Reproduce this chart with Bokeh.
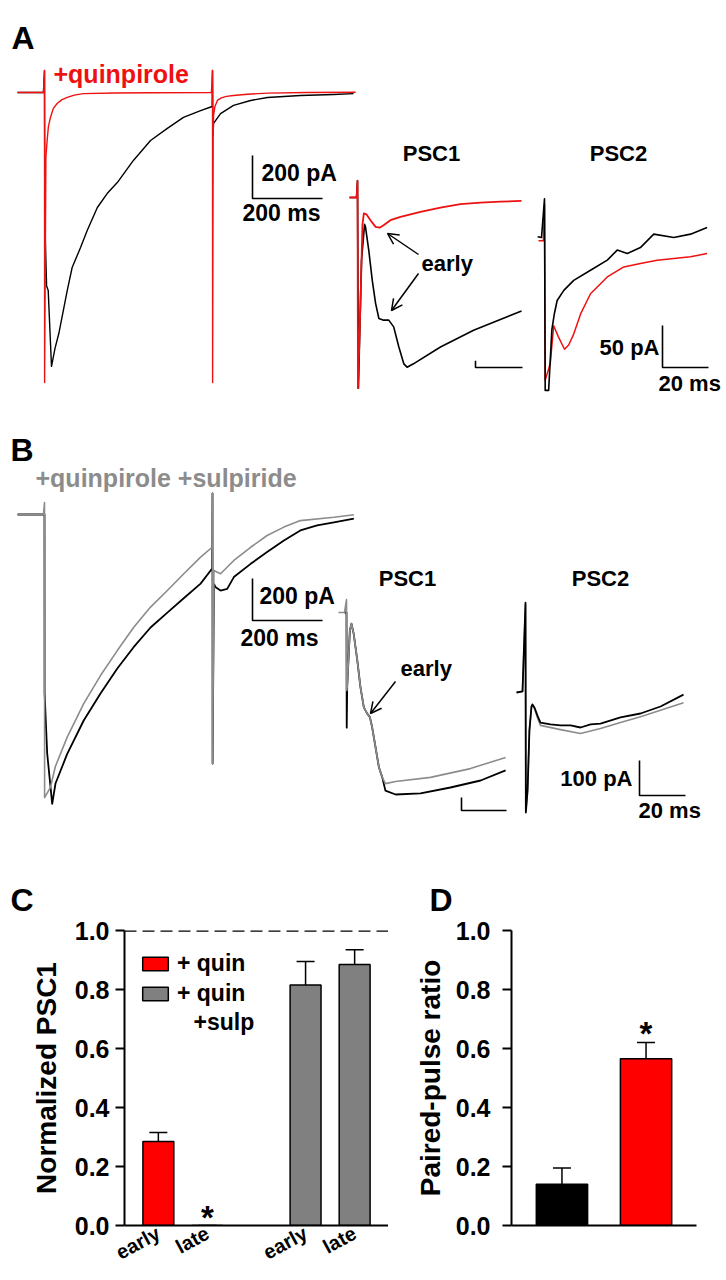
import math
from bokeh.plotting import figure
from bokeh.layouts import column, row
from bokeh.models import (Range1d, ColumnDataSource, Arrow, OpenHead, Span, Whisker, TeeHead,
                          Label, FixedTicker, PrintfTickFormatter, Legend, LegendItem, Title)
from bokeh.embed import file_html
from bokeh.resources import INLINE
from bokeh.core.properties import value

FONT = "Liberation Sans"
RED = "#ee1111"
BAR_RED = "#ff0000"
GRAY = "#8c8c8c"
BAR_GRAY = "#808080"

# ---------------- Panel A traces (time in ms, current in pA) ----------------
a0_ctrl_t = [-77, -3, 0, 1, 6, 10.6, 20, 30, 40.9, 64.9, 79, 103, 122, 151, 179, 208, 254, 303, 351, 397,
             446, 479, 480, 481.5, 483, 503, 540, 589, 637, 731, 826, 883]
a0_ctrl_i = [0, 0, 102, -600, -900, -921, -1274, -1190, -1121, -921, -814, -721, -642, -535, -470, -419, -316,
             -223, -167, -116, -84, -65, 102, -200, -144, -98, -60, -37, -23, -14, -9, -5]
a0_quin_t = [-77, -3, 0, 0.3, 4, 7.6, 11, 17, 25, 36, 50, 65, 85, 111, 200, 300, 477, 480, 480.3, 482,
             483, 487, 494, 505, 520, 540, 580, 637, 750, 889]
a0_quin_i = [0, 0, 102, -1349, -300, -223, -160, -116, -75, -51, -33, -23, -12, -5, -2, -1, 0, 102, -1349, -200,
             -107, -65, -37, -25, -18, -14, -8, -3, 0, 1]

a1_quin_t = [-3.4, -0.4, 0, 0.2, 1.3, 2.1, 2.7, 3.8, 5.5, 7.7, 9.4, 11.1, 14, 18.3, 26.8, 35.3, 43.8, 52.3, 60.9, 69.8]
a1_quin_i = [0, 0, 20, -227, -123, -33, -19, -20, -27, -35, -36, -33, -27, -23, -17, -12, -8, -6, -5, -4]
a1_ctrl_t = [-3.4, -0.4, 0, 0.4, 1.7, 3.0, 3.4, 4.8, 6.3, 7.7, 9.1, 11.1, 13.3, 15.4, 17.6, 19.7, 21.1, 23.8,
             35.3, 49.4, 63.7, 69.8]
a1_ctrl_i = [0, 0, 20, -227, -75, -32, -35, -63, -99, -126, -144, -146, -146, -154, -178, -198, -202, -198,
             -178, -158, -142, -135]

a2_ctrl_t = [-3, -1.3, 0, 0.3, 1.8, 3.2, 4.2, 5.5, 8.4, 12.7, 20, 27.3, 31.6, 36, 41.7, 47.5, 56.2, 63.5, 70.7]
a2_ctrl_i = [1, 0, 46, -182, -182, -110, -92, -75, -63, -51, -39, -27, -15, -19, -12, 4, 0, 4, 12]
a2_quin_t = [-2.6, -0.5, 0, 0.3, 2.5, 4, 6, 8.7, 10.5, 12.7, 15.7, 20, 27.3, 34.5, 41.7, 49, 56.2, 63.5, 70.7]
a2_quin_i = [-4, -4, 40, -170, -150, -105, -118, -133, -128, -115, -91, -67, -47, -35, -31, -27, -25, -23, -19]

# ---------------- Panel B traces ----------------
b0_ctrl_t = [-77, -3, 0, 0.3, 7.7, 22, 31.4, 64.9, 112, 160, 208, 254, 303, 351, 397, 446, 479, 480, 480.3, 484,
             489, 503, 522, 541, 589, 636, 684, 731, 779, 827, 884]
b0_ctrl_i = [0, 0, 0, -850, -1138, -1378, -1281, -1140, -981, -852, -733, -633, -538, -467, -400, -329, -257,
             100, -1186, -330, -346, -362, -354, -298, -235, -179, -124, -76, -52, -37, -20]
b0_sulp_t = [-77, -3, 0, 0.3, 17, 31, 64.9, 112, 160, 208, 255, 303, 351, 398, 446, 479, 480, 480.3, 484, 503,
             541, 589, 636, 684, 731, 827, 884]
b0_sulp_i = [0, 0, 57, -1348, -1299, -1200, -1060, -901, -767, -648, -537, -441, -362, -282, -203, -156, 100,
             -1186, -267, -282, -219, -156, -100, -60, -29, -13, -1]

b1_sulp_t = [-3.6, -0.9, 0, 0.1, 0.3, 1.5, 2.2, 3.2, 4.8, 6.2, 7.7, 9.2, 10.4, 11.4, 12.9, 14.4, 15.9, 17.3,
             21.8, 37.3, 55.1, 70.7]
b1_sulp_i = [0, 0, 37, -223, -213, -51, -32, -61, -137, -213, -271, -289, -299, -328, -385, -442, -471, -489,
             -483, -471, -446, -414]
b1_ctrl_t = [-0.9, 0, 0.1, 0.3, 1.5, 2.2, 3.2, 4.8, 6.2, 7.7, 9.2, 10.4, 11.4, 12.9, 14.4, 15.9, 17.3, 21.8,
             32.9, 46.2, 59.6, 70.7]
b1_ctrl_i = [0, 0, -329, -213, -51, -32, -61, -137, -213, -271, -289, -299, -328, -385, -442, -471, -509, -520,
             -517, -500, -480, -451]

b2_ctrl_t = [-3.9, -1.3, 0, 0.15, 0.9, 1.7, 2.6, 3.0, 3.9, 5.2, 6.5, 10.9, 15.2, 19.6, 23.9, 28.3, 32.6, 41.3,
             50, 58.7, 68.7]
b2_ctrl_i = [0, 3, 257, -343, -280, -109, -40, -34, -43, -66, -86, -91, -94, -94, -100, -91, -89, -71, -60, -40, -6]
b2_sulp_t = [-3.9, -1.3, 0, 0.15, 0.9, 1.7, 2.6, 3.0, 3.9, 5.2, 6.5, 15.2, 23.9, 32.6, 41.3, 50, 58.7, 68.7]
b2_sulp_i = [0, 3, 250, -340, -280, -109, -40, -36, -46, -72, -94, -106, -117, -103, -86, -69, -51, -29]

# scale bars (labelled values)
overview_bar_ms = 200
overview_bar_pA = 200
inset_bar_ms = 20
a_inset_bar_pA = 50
b_inset_bar_pA = 100

# ---------------- Panel C / D bar data ----------------
c_groups = ["quin", "quin", "quin_sulp", "quin_sulp"]
c_categories = ["early", "late", "early", "late"]
c_values = [0.285, 0.0, 0.815, 0.885]
c_errors = [0.03, 0.0, 0.08, 0.05]
c_stars = ["", "*", "", ""]
c_legend = {"quin": "+ quin", "quin_sulp": "+ quin"}
c_legend_extra = "+sulp"
c_colors = {"quin": BAR_RED, "quin_sulp": BAR_GRAY}

d_values = [0.14, 0.565]
d_errors = [0.055, 0.055]
d_stars = ["", "*"]
d_colors = ["#000000", BAR_RED]

W = 722


def trace_figure(y_top, height):
    p = figure(width=W, height=height, x_range=Range1d(0, W),
               y_range=Range1d(y_top + height, y_top),
               output_backend="svg", toolbar_location=None,
               x_axis_location=None, y_axis_location=None,
               min_border=0, outline_line_color=None)
    p.grid.visible = False
    return p


def add_inset(p, y_top, height, name, xs, yb, kx, ky):
    p.extra_x_ranges[name] = Range1d(start=(0 - xs) / kx, end=(W - xs) / kx)
    p.extra_y_ranges[name] = Range1d(start=(yb - (y_top + height)) / ky, end=(yb - y_top) / ky)
    return (name, xs, yb, kx, ky)


def trace(p, inset, t, i, color, lw=1.5):
    p.line(t, i, x_range_name=inset[0], y_range_name=inset[0], line_color=color, line_width=lw,
           line_join="round")


def scalebar(p, inset, cx, cy, L, H):
    name, xs, yb, kx, ky = inset
    tc = (cx - xs) / kx
    ic = (yb - cy) / ky
    p.line([tc, tc, tc + L], [ic + H, ic, ic], x_range_name=name, y_range_name=name,
           line_color="black", line_width=1.6)


def txt(p, x, y, s, size, color="black", align="left", baseline="middle"):
    p.text(x=[x], y=[y], text=[s], text_font=value(FONT), text_font_style="bold",
           text_font_size=f"{size}px", text_color=color, text_align=align, text_baseline=baseline)


def arrow(p, x0, y0, x1, y1):
    p.add_layout(Arrow(end=OpenHead(size=11, line_width=1.5, line_color="black"),
                       x_start=x0, y_start=y0, x_end=x1, y_end=y1,
                       line_width=1.5, line_color="black"))


# ================= Panel A =================
AT, AH = 0, 400
pa = trace_figure(AT, AH)
ia0 = add_inset(pa, AT, AH, "a0", 44, 92, 0.35, 0.215)
ia1 = add_inset(pa, AT, AH, "a1", 357, 197, 2.35, 0.84)
ia2 = add_inset(pa, AT, AH, "a2", 544, 237, 2.3, 0.84)

trace(pa, ia0, a0_ctrl_t, a0_ctrl_i, "black", 1.4)
trace(pa, ia0, a0_quin_t, a0_quin_i, RED, 1.4)
trace(pa, ia1, a1_ctrl_t, a1_ctrl_i, "black", 1.6)
trace(pa, ia1, a1_quin_t, a1_quin_i, RED, 1.8)
trace(pa, ia2, a2_quin_t, a2_quin_i, RED, 1.5)
trace(pa, ia2, a2_ctrl_t, a2_ctrl_i, "black", 1.6)

scalebar(pa, ia0, 252, 198, overview_bar_ms, overview_bar_pA)
scalebar(pa, ia1, 475, 367, inset_bar_ms, 8)
scalebar(pa, ia2, 662, 367, inset_bar_ms, a_inset_bar_pA)

txt(pa, 11, 37, "A", 32)
txt(pa, 53, 73, "+quinpirole", 25, RED)
txt(pa, 261, 172, "200 pA", 23)
txt(pa, 242, 212, "200 ms", 23)
txt(pa, 431, 153, "PSC1", 22, align="center")
txt(pa, 618, 153, "PSC2", 22, align="center")
txt(pa, 421, 263, "early", 22)
txt(pa, 659, 347, "50 pA", 22, align="right")
txt(pa, 658, 383, "20 ms", 22)
arrow(pa, 418, 254, 387, 233)
arrow(pa, 418, 273, 391, 310)

# ================= Panel B =================
BT, BH = 400, 424
pb = trace_figure(BT, BH)
ib0 = add_inset(pb, BT, BH, "b0", 44, 514, 0.35, 0.21)
ib1 = add_inset(pb, BT, BH, "b1", 346, 612, 2.25, 0.35)
ib2 = add_inset(pb, BT, BH, "b2", 525, 692, 2.3, 0.35)

trace(pb, ib0, b0_ctrl_t, b0_ctrl_i, "black", 1.8)
trace(pb, ib0, b0_sulp_t, b0_sulp_i, GRAY, 1.6)
trace(pb, ib1, b1_ctrl_t, b1_ctrl_i, "black", 1.8)
trace(pb, ib1, b1_sulp_t, b1_sulp_i, GRAY, 1.6)
trace(pb, ib2, b2_sulp_t, b2_sulp_i, GRAY, 1.6)
trace(pb, ib2, b2_ctrl_t, b2_ctrl_i, "black", 1.8)

scalebar(pb, ib0, 252, 620, overview_bar_ms, overview_bar_pA)
scalebar(pb, ib1, 461, 810, inset_bar_ms, 37)
scalebar(pb, ib2, 639, 795, inset_bar_ms, b_inset_bar_pA)

txt(pb, 10, 449, "B", 32)
txt(pb, 35, 477, "+quinpirole +sulpiride", 25, GRAY)
txt(pb, 259, 595, "200 pA", 23)
txt(pb, 240, 637, "200 ms", 23)
txt(pb, 407, 578, "PSC1", 22, align="center")
txt(pb, 600, 578, "PSC2", 22, align="center")
txt(pb, 400, 668, "early", 22)
txt(pb, 632, 778, "100 pA", 22, align="right")
txt(pb, 638, 810, "20 ms", 22)
arrow(pb, 395, 681, 370, 713)


# ================= Bar panels =================
def style_axes(p, label, label_standoff, tick_standoff):
    p.grid.visible = False
    ya = p.yaxis[0]
    ya.ticker = FixedTicker(ticks=[0, 0.2, 0.4, 0.6, 0.8, 1.0])
    ya.formatter = PrintfTickFormatter(format="%.1f")
    ya.major_tick_out = 9
    ya.major_tick_in = 0
    ya.minor_tick_line_color = None
    ya.axis_line_width = 2
    ya.major_tick_line_width = 2
    ya.major_label_text_font = FONT
    ya.major_label_text_font_style = "bold"
    ya.major_label_text_font_size = "25px"
    ya.major_label_text_color = "black"
    ya.major_label_standoff = tick_standoff
    ya.axis_label = label
    ya.axis_label_text_font = FONT
    ya.axis_label_text_font_style = "bold"
    ya.axis_label_text_font_size = "28px"
    ya.axis_label_text_color = "black"
    ya.axis_label_standoff = label_standoff
    xa = p.xaxis[0]
    xa.major_tick_line_color = None
    xa.major_tick_out = 0
    xa.major_tick_in = 0
    xa.minor_tick_line_color = None
    xa.minor_tick_out = 0
    xa.axis_line_width = 2


def panel_title(p, letter, offset):
    p.add_layout(Title(text=letter, align="left", offset=offset, standoff=26,
                       text_font=FONT, text_font_style="bold", text_font_size="32px",
                       text_color="black"), "above")


CH = 455
# C: positions from group / within-group order
group_idx, within = {}, {}
c_pos = []
for g in c_groups:
    gi = group_idx.setdefault(g, len(group_idx))
    k = within.get(g, 0)
    within[g] = k + 1
    c_pos.append(gi * 3 + k)

pc = figure(width=388, height=CH, x_range=Range1d(-0.69, 4.69), y_range=Range1d(0, 1.0),
            output_backend="svg", toolbar_location=None, outline_line_color=None,
            min_border_left=124, min_border_right=0, min_border_top=106, min_border_bottom=50)
style_axes(pc, "Normalized PSC1", 10, 6)
pc.xaxis[0].ticker = FixedTicker(ticks=c_pos)
pc.xaxis[0].major_label_overrides = {x: c for x, c in zip(c_pos, c_categories)}
pc.xaxis[0].major_label_orientation = 0.5
pc.xaxis[0].major_label_standoff = 6
pc.xaxis[0].major_label_text_font = FONT
pc.xaxis[0].major_label_text_font_style = "bold"
pc.xaxis[0].major_label_text_font_size = "20px"
pc.xaxis[0].major_label_text_color = "black"

items = []
for g in group_idx:
    xs = [x for x, gg in zip(c_pos, c_groups) if gg == g]
    ts = [v for v, gg in zip(c_values, c_groups) if gg == g]
    r = pc.vbar(x=xs, top=ts, width=0.63, fill_color=c_colors[g], line_color="black", line_width=1.5)
    items.append(LegendItem(label=value(c_legend[g]), renderers=[r]))

c_upper = [v + e for v, e in zip(c_values, c_errors)]
pc.add_layout(Whisker(source=ColumnDataSource(dict(base=c_pos, lower=c_values, upper=c_upper)),
                      base="base", lower="lower", upper="upper", lower_head=None,
                      upper_head=TeeHead(size=18, line_width=1.5, line_color="black"),
                      line_width=1.5, line_color="black", level="overlay"))
pc.text(x=c_pos, y=c_upper, text=c_stars, text_font=value(FONT), text_font_style="bold",
        text_font_size="33px", text_align="center", text_baseline="alphabetic", y_offset=-8)
pc.add_layout(Span(location=1.0, dimension="width", line_dash="12 6", line_width=2.5,
                   line_color="black"))

lg = Legend(items=items, location=(15, 218), background_fill_alpha=0, border_line_color=None,
            label_text_font=FONT, label_text_font_style="bold", label_text_font_size="23px",
            label_text_color="black",
            glyph_width=32, glyph_height=17, label_standoff=6, spacing=3, padding=0, margin=0,
            label_height=27)
pc.add_layout(lg)
pc.add_layout(Label(x=0.716, y=0.689, text=c_legend_extra, text_font=FONT, text_font_style="bold",
                    text_font_size="23px", text_align="left", text_baseline="middle",
                    text_color="black"))
panel_title(pc, "C", -114)

# D
pd = figure(width=334, height=CH, x_range=Range1d(-0.6, 1.6), y_range=Range1d(0, 1.0),
            output_backend="svg", toolbar_location=None, outline_line_color=None,
            min_border_left=123, min_border_right=26, min_border_top=102, min_border_bottom=54)
style_axes(pd, "Paired-pulse ratio", 7, 12)
pd.xaxis[0].ticker = FixedTicker(ticks=[])
pd.xaxis[0].major_label_text_font_size = "0px"
d_pos = list(range(len(d_values)))
pd.vbar(x=d_pos, top=d_values, width=0.61, fill_color=d_colors, line_color="black", line_width=1.5)
d_upper = [v + e for v, e in zip(d_values, d_errors)]
pd.add_layout(Whisker(source=ColumnDataSource(dict(base=d_pos, lower=d_values, upper=d_upper)),
                      base="base", lower="lower", upper="upper", lower_head=None,
                      upper_head=TeeHead(size=18, line_width=1.5, line_color="black"),
                      line_width=1.5, line_color="black", level="overlay"))
pd.text(x=d_pos, y=d_upper, text=d_stars, text_font=value(FONT), text_font_style="bold",
        text_font_size="33px", text_align="center", text_baseline="alphabetic", y_offset=-9)
panel_title(pd, "D", -82)

layout = column(pa, pb, row(pc, pd))
open("out.html", "w").write(file_html(layout, INLINE))
